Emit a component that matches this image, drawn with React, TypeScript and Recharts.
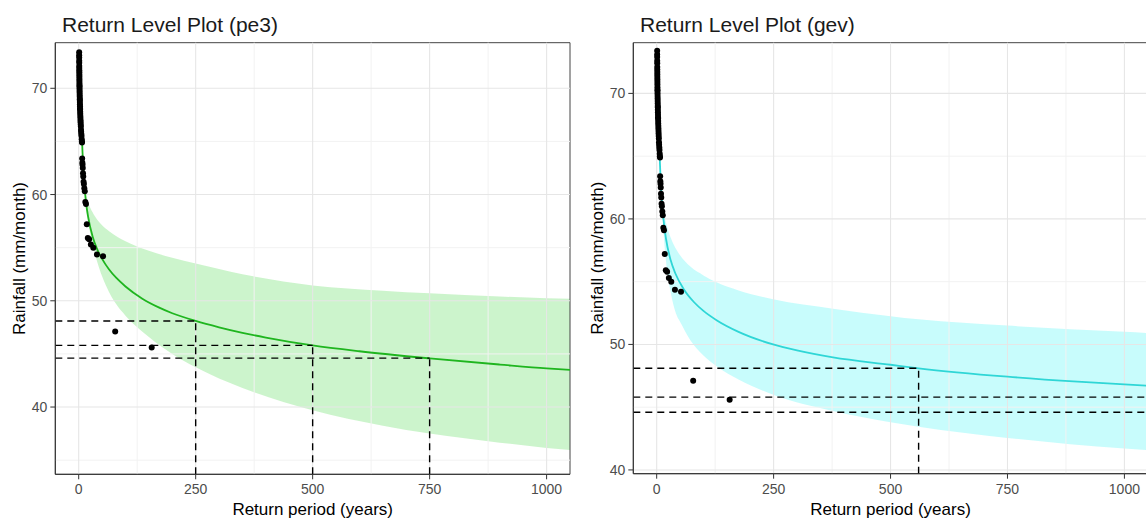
import React from 'react';
import {
  ComposedChart,
  Area,
  Line,
  Scatter,
  XAxis,
  YAxis,
  ReferenceLine,
  ReferenceArea,
} from 'recharts';

const FONT = 'Arial, "Liberation Sans", Helvetica, sans-serif';

// ---------- observed points (return period in years, rainfall mm/month) ----------
const obsPeriods = [
  156, 78, 52, 39, 31.2, 26, 22.3, 19.5, 17.3, 15.6, 14.2, 13, 12, 11.1, 10.4, 9.75, 9.2, 8.7, 8.2, 7.8, 7.4, 7.1,
  6.8, 6.5, 6.0, 5.6, 5.2, 4.9, 4.6, 4.3, 4.1, 3.9, 3.7, 3.5, 3.3, 3.2, 3.0, 2.9, 2.8, 2.6, 2.5, 2.4, 2.3,
  2.2, 2.1, 2.0, 1.9, 1.8, 1.75, 1.7, 1.6, 1.55, 1.5, 1.45, 1.4, 1.35, 1.3, 1.25, 1.2, 1.15, 1.1, 1.06, 1.03, 1.01,
];
const obsRainfall = [
  45.6, 47.1, 54.2, 54.35, 55.0, 55.3, 55.8, 55.9, 57.2, 59.1, 59.3, 60.3, 60.6, 61.0, 61.2, 61.7, 62.0, 62.5, 62.8, 63.0, 63.4, 64.9,
  65.0, 65.2, 65.5, 65.7, 65.9, 66.1, 66.4, 66.6, 66.8, 67.0, 67.2, 67.4, 67.6, 67.8, 68.0, 68.1, 68.3, 68.5, 68.7, 68.9, 69.0,
  69.2, 69.4, 69.6, 69.8, 70.0, 70.2, 70.3, 70.5, 70.7, 70.9, 71.1, 71.3, 71.5, 71.7, 71.9, 72.1, 72.4, 72.6, 72.9, 73.1, 73.4,
];

// ---------- pe3 fit ----------
const pe3CurvePeriods = [5, 7, 10, 15, 20, 30, 40, 50, 65, 80, 100, 136, 171, 200, 250, 300, 350, 400, 500, 600, 750, 900, 1000, 1050];
const pe3CurveValues = [68.4, 65.3, 62.4, 59.5, 57.95, 56.0, 54.8, 53.95, 52.95, 52.17, 51.35, 50.2, 49.38, 48.83, 48.1, 47.5, 46.98, 46.54, 45.8, 45.25, 44.58, 44.0, 43.64, 43.5];
const pe3BandPeriods = [12, 15, 20, 30, 40, 50, 65, 83, 100, 150, 200, 250, 350, 500, 650, 750, 900, 1000, 1050];
const pe3BandLow = [61.0, 59.2, 57.5, 55.3, 53.6, 52.3, 50.8, 49.5, 48.6, 46.6, 45.0, 43.75, 41.8, 39.7, 38.25, 37.5, 36.65, 36.15, 35.95];
const pe3BandHigh = [61.2, 60.1, 59.3, 58.3, 57.6, 57.1, 56.55, 56.0, 55.6, 54.7, 54.05, 53.5, 52.5, 51.45, 50.95, 50.7, 50.4, 50.25, 50.2];
const pe3LevelValues = [48.1, 45.8, 44.6];
const pe3LevelPeriods = [250, 500, 750];

// ---------- gev fit ----------
const gevCurvePeriods = [5, 7, 10, 15, 20, 30, 40, 57.5, 80, 100, 128, 175, 249, 300, 377, 500, 560, 750, 900, 1000, 1050];
const gevCurveValues = [66.7, 64.4, 62.05, 59.8, 58.4, 56.7, 55.65, 54.42, 53.36, 52.67, 51.93, 51.0, 50.0, 49.52, 48.96, 48.38, 48.1, 47.43, 47.03, 46.81, 46.71];
const gevBandPeriods = [12, 15, 20, 30, 43, 50, 72, 100, 128, 175, 249, 377, 500, 560, 750, 1000, 1050];
const gevBandLow = [60.9, 58.8, 56.6, 54.15, 52.3, 51.8, 50.34, 49.12, 48.26, 47.2, 46.0, 44.7, 43.8, 43.45, 42.55, 41.7, 41.58];
const gevBandHigh = [61.1, 60.5, 59.7, 58.5, 57.5, 57.1, 56.2, 55.5, 54.95, 54.3, 53.6, 52.85, 52.25, 52.0, 51.5, 51.0, 50.9];
const gevLevelValues = [48.1, 45.8, 44.6];
const gevLevelPeriods: (number | null)[] = [560, null, null];

// ---------- axes ----------
const xTicks = [0, 250, 500, 750, 1000];
const xMinorTicks = [125, 375, 625, 875];
const yTicks = [40, 50, 60, 70];
const pe3YMinor = [35, 45, 55, 65];
const gevYMinor = [45, 55, 65];
const xDomain: [number, number] = [-50, 1050];
const pe3YDomain: [number, number] = [33.67, 74.29];
const gevYDomain: [number, number] = [39.7, 74.04];

const obsData = obsPeriods.map((t, i) => ({ t, v: obsRainfall[i] }));

function curve(periods: number[], values: number[]) {
  return periods.map((t, i) => ({ t, v: values[i] }));
}
function band(periods: number[], low: number[], high: number[]) {
  return periods.map((t, i) => ({ t, band: [low[i], high[i]] }));
}

type PanelProps = {
  left: number;
  width: number;
  yAxisWidth: number;
  marginRight: number;
  marginBottom: number;
  yDomain: [number, number];
  yMinor: number[];
  curveData: { t: number; v: number }[];
  bandData: { t: number; band: number[] }[];
  lineColor: string;
  fillColor: string;
  fillOpacity: number;
  levels: number[];
  levelPeriods: (number | null)[];
};

const Dot = (p: any) => <circle cx={p.cx} cy={p.cy} r={3} fill="#000" />;

function Panel(props: PanelProps) {
  const {
    left, width, yAxisWidth, marginRight, marginBottom, yDomain, yMinor,
    curveData, bandData, lineColor, fillColor, fillOpacity, levels, levelPeriods,
  } = props;
  const tickStyle = { fill: '#4d4d4d', fontSize: 14, fontFamily: FONT };
  return (
    <div style={{ position: 'absolute', left, top: 0 }}>
      <ComposedChart
        width={width}
        height={519}
        margin={{ top: 42.7, right: marginRight, bottom: marginBottom, left: 0 }}
      >
        <XAxis
          type="number"
          dataKey="t"
          domain={xDomain}
          ticks={xTicks}
          allowDataOverflow
          height={30}
          tickSize={5}
          tickMargin={5}
          tick={tickStyle}
          tickLine={{ stroke: '#333' }}
          axisLine={{ stroke: '#333' }}
        />
        <YAxis
          type="number"
          domain={yDomain}
          ticks={yTicks}
          allowDataOverflow
          width={yAxisWidth}
          tickSize={5}
          tickMargin={3}
          tick={tickStyle}
          tickLine={{ stroke: '#333' }}
          axisLine={{ stroke: '#333' }}
        />
        {xMinorTicks.map((x) => (
          <ReferenceLine key={'xm' + x} x={x} stroke="#f2f2f2" strokeWidth={1} />
        ))}
        {yMinor.map((y) => (
          <ReferenceLine key={'ym' + y} y={y} stroke="#f2f2f2" strokeWidth={1} />
        ))}
        {xTicks.map((x) => (
          <ReferenceLine key={'xM' + x} x={x} stroke="#e6e6e6" strokeWidth={1.1} />
        ))}
        {yTicks.map((y) => (
          <ReferenceLine key={'yM' + y} y={y} stroke="#e6e6e6" strokeWidth={1.1} />
        ))}
        <Area
          data={bandData}
          dataKey="band"
          type="monotone"
          stroke="none"
          fill={fillColor}
          fillOpacity={fillOpacity}
          isAnimationActive={false}
          dot={false}
          activeDot={false}
        />
        <Line
          data={curveData}
          dataKey="v"
          type="monotone"
          stroke={lineColor}
          strokeWidth={1.8}
          dot={false}
          activeDot={false}
          isAnimationActive={false}
        />
        {levels.map((lv, i) => {
          const tEnd = levelPeriods[i] == null ? xDomain[1] : (levelPeriods[i] as number);
          return (
            <ReferenceLine
              key={'h' + i}
              segment={[{ x: xDomain[0], y: lv }, { x: tEnd, y: lv }]}
              stroke="#000"
              strokeWidth={1.4}
              strokeDasharray="7 5"
              ifOverflow="visible"
            />
          );
        })}
        {levels.map((lv, i) =>
          levelPeriods[i] == null ? null : (
            <ReferenceLine
              key={'v' + i}
              segment={[{ x: levelPeriods[i] as number, y: yDomain[0] }, { x: levelPeriods[i] as number, y: lv }]}
              stroke="#000"
              strokeWidth={1.4}
              strokeDasharray="7 5"
              ifOverflow="visible"
            />
          )
        )}
        <Scatter data={obsData} dataKey="v" shape={Dot} isAnimationActive={false} />
        <ReferenceArea
          x1={xDomain[0]}
          x2={xDomain[1]}
          y1={yDomain[0]}
          y2={yDomain[1]}
          fill="none"
          fillOpacity={0}
          stroke="#444"
          strokeWidth={1}
          ifOverflow="visible"
        />
      </ComposedChart>
    </div>
  );
}

export default function App() {
  return (
    <div
      style={{
        position: 'absolute',
        left: 0,
        top: 0,
        width: 1146,
        height: 519,
        overflow: 'hidden',
        background: '#fff',
        fontFamily: FONT,
      }}
    >
      <Panel
        left={0}
        width={580}
        yAxisWidth={55.3}
        marginRight={10}
        marginBottom={14.7}
        yDomain={pe3YDomain}
        yMinor={pe3YMinor}
        curveData={curve(pe3CurvePeriods, pe3CurveValues)}
        bandData={band(pe3BandPeriods, pe3BandLow, pe3BandHigh)}
        lineColor="#1fb51f"
        fillColor="#8fe68f"
        fillOpacity={0.45}
        levels={pe3LevelValues}
        levelPeriods={pe3LevelPeriods}
      />
      <Panel
        left={580}
        width={580}
        yAxisWidth={53.3}
        marginRight={12.2}
        marginBottom={15.3}
        yDomain={gevYDomain}
        yMinor={gevYMinor}
        curveData={curve(gevCurvePeriods, gevCurveValues)}
        bandData={band(gevBandPeriods, gevBandLow, gevBandHigh)}
        lineColor="#2fd6d6"
        fillColor="#22f2f2"
        fillOpacity={0.25}
        levels={gevLevelValues}
        levelPeriods={gevLevelPeriods}
      />
      <svg
        width={1146}
        height={519}
        style={{ position: 'absolute', left: 0, top: 0, pointerEvents: 'none' }}
      >
        <text x={62} y={32.3} fontSize={21} fill="#1a1a1a" fontFamily={FONT}>
          Return Level Plot (pe3)
        </text>
        <text x={640} y={32.3} fontSize={21} fill="#1a1a1a" fontFamily={FONT}>
          Return Level Plot (gev)
        </text>
        <text x={312.7} y={515} fontSize={17} fill="#000" textAnchor="middle" fontFamily={FONT}>
          Return period (years)
        </text>
        <text x={890.5} y={515} fontSize={17} fill="#000" textAnchor="middle" fontFamily={FONT}>
          Return period (years)
        </text>
        <text
          x={0}
          y={0}
          fontSize={17}
          fill="#000"
          textAnchor="middle"
          fontFamily={FONT}
          transform="translate(24.5 258.5) rotate(-90)"
        >
          Rainfall (mm/month)
        </text>
        <text
          x={0}
          y={0}
          fontSize={17}
          fill="#000"
          textAnchor="middle"
          fontFamily={FONT}
          transform="translate(603 258.2) rotate(-90)"
        >
          Rainfall (mm/month)
        </text>
      </svg>
    </div>
  );
}
